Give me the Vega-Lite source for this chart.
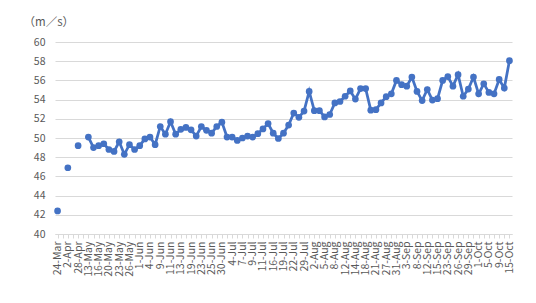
{
  "$schema": "https://vega.github.io/schema/vega-lite/v6.json",
  "width": 457,
  "height": 192,
  "autosize": {"type": "none"},
  "padding": {"left": 55, "top": 42, "right": 24, "bottom": 69},
  "background": "white",
  "data": {
    "values": [
      {"d": "24-Mar", "v": 42.4},
      {"d": "28-Mar", "v": null},
      {"d": "2-Apr", "v": 46.9},
      {"d": "15-Apr", "v": null},
      {"d": "28-Apr", "v": 49.2},
      {"d": "5-May", "v": null},
      {"d": "13-May", "v": 50.1},
      {"d": "14-May", "v": 49.0},
      {"d": "16-May", "v": 49.2},
      {"d": "17-May", "v": 49.4},
      {"d": "20-May", "v": 48.8},
      {"d": "22-May", "v": 48.6},
      {"d": "23-May", "v": 49.6},
      {"d": "24-May", "v": 48.3},
      {"d": "26-May", "v": 49.3},
      {"d": "30-May", "v": 48.8},
      {"d": "1-Jun", "v": 49.2},
      {"d": "2-Jun", "v": 49.9},
      {"d": "4-Jun", "v": 50.1},
      {"d": "6-Jun", "v": 49.3},
      {"d": "9-Jun", "v": 51.2},
      {"d": "10-Jun", "v": 50.4},
      {"d": "11-Jun", "v": 51.7},
      {"d": "12-Jun", "v": 50.4},
      {"d": "13-Jun", "v": 50.9},
      {"d": "16-Jun", "v": 51.1},
      {"d": "19-Jun", "v": 50.85},
      {"d": "20-Jun", "v": 50.2},
      {"d": "23-Jun", "v": 51.2},
      {"d": "24-Jun", "v": 50.8},
      {"d": "25-Jun", "v": 50.5},
      {"d": "27-Jun", "v": 51.2},
      {"d": "30-Jun", "v": 51.65},
      {"d": "2-Jul", "v": 50.1},
      {"d": "4-Jul", "v": 50.1},
      {"d": "5-Jul", "v": 49.75},
      {"d": "7-Jul", "v": 50.0},
      {"d": "8-Jul", "v": 50.2},
      {"d": "9-Jul", "v": 50.1},
      {"d": "10-Jul", "v": 50.45},
      {"d": "11-Jul", "v": 50.95},
      {"d": "14-Jul", "v": 51.5},
      {"d": "16-Jul", "v": 50.5},
      {"d": "18-Jul", "v": 49.95},
      {"d": "19-Jul", "v": 50.5},
      {"d": "20-Jul", "v": 51.35},
      {"d": "22-Jul", "v": 52.6},
      {"d": "26-Jul", "v": 52.15},
      {"d": "29-Jul", "v": 52.8},
      {"d": "31-Jul", "v": 54.85},
      {"d": "2-Aug", "v": 52.85},
      {"d": "3-Aug", "v": 52.85},
      {"d": "5-Aug", "v": 52.2},
      {"d": "6-Aug", "v": 52.45},
      {"d": "8-Aug", "v": 53.65},
      {"d": "10-Aug", "v": 53.8},
      {"d": "12-Aug", "v": 54.35},
      {"d": "13-Aug", "v": 54.9},
      {"d": "14-Aug", "v": 54.05},
      {"d": "16-Aug", "v": 55.15},
      {"d": "18-Aug", "v": 55.15},
      {"d": "20-Aug", "v": 52.9},
      {"d": "21-Aug", "v": 52.95},
      {"d": "24-Aug", "v": 53.65},
      {"d": "27-Aug", "v": 54.3},
      {"d": "29-Aug", "v": 54.6},
      {"d": "31-Aug", "v": 56.0},
      {"d": "1-Sep", "v": 55.55},
      {"d": "3-Sep", "v": 55.4},
      {"d": "6-Sep", "v": 56.35},
      {"d": "8-Sep", "v": 54.85},
      {"d": "10-Sep", "v": 53.9},
      {"d": "12-Sep", "v": 55.05},
      {"d": "14-Sep", "v": 53.95},
      {"d": "15-Sep", "v": 54.1},
      {"d": "19-Sep", "v": 56.0},
      {"d": "23-Sep", "v": 56.4},
      {"d": "24-Sep", "v": 55.4},
      {"d": "26-Sep", "v": 56.6},
      {"d": "27-Sep", "v": 54.35},
      {"d": "29-Sep", "v": 55.1},
      {"d": "30-Sep", "v": 56.35},
      {"d": "1-Oct", "v": 54.6},
      {"d": "3-Oct", "v": 55.65},
      {"d": "5-Oct", "v": 54.75},
      {"d": "7-Oct", "v": 54.6},
      {"d": "9-Oct", "v": 56.1},
      {"d": "12-Oct", "v": 55.2},
      {"d": "15-Oct", "v": 58.05}
    ]
  },
  "encoding": {
    "x": {
      "field": "d",
      "type": "ordinal",
      "sort": null,
      "scale": {"type": "point", "padding": 0.5},
      "axis": {
        "title": null,
        "labelAngle": -90,
        "labelFontSize": 10.5,
        "labelColor": "#595959",
        "labelPadding": 3,
        "domainColor": "#d9d9d9",
        "tickColor": "#d9d9d9",
        "tickSize": 4,
        "grid": false,
        "labelOverlap": false,
        "labelExpr": "indexof(['24-Mar','2-Apr','28-Apr','13-May','16-May','20-May','23-May','26-May','1-Jun','4-Jun','9-Jun','11-Jun','13-Jun','19-Jun','23-Jun','25-Jun','30-Jun','4-Jul','7-Jul','9-Jul','11-Jul','16-Jul','19-Jul','22-Jul','29-Jul','2-Aug','5-Aug','8-Aug','12-Aug','14-Aug','18-Aug','21-Aug','27-Aug','31-Aug','3-Sep','8-Sep','12-Sep','15-Sep','23-Sep','26-Sep','29-Sep','1-Oct','5-Oct','9-Oct','15-Oct'], datum.value) >= 0 ? datum.value : ''"
      }
    },
    "y": {
      "field": "v",
      "type": "quantitative",
      "scale": {"domain": [40, 60], "nice": false, "zero": false},
      "axis": {
        "values": [40, 42, 44, 46, 48, 50, 52, 54, 56, 58, 60],
        "grid": true,
        "gridColor": "#d9d9d9",
        "domain": false,
        "ticks": false,
        "labelColor": "#595959",
        "labelFontSize": 10.5,
        "labelPadding": 10,
        "title": "（m／s）",
        "titleAngle": 0,
        "titleAlign": "left",
        "titleBaseline": "middle",
        "titleX": -32,
        "titleY": -20,
        "titleFontWeight": "normal",
        "titleFontSize": 11.5,
        "titleColor": "#595959"
      }
    }
  },
  "layer": [
    {"mark": {"type": "line", "color": "#4472C4", "strokeWidth": 2.75, "invalid": "break-paths-show-domains"}},
    {"mark": {"type": "point", "filled": true, "color": "#4472C4", "size": 45, "opacity": 1, "invalid": "break-paths-show-domains"}}
  ],
  "config": {"view": {"stroke": null}, "font": "Noto Sans CJK JP"}
}
